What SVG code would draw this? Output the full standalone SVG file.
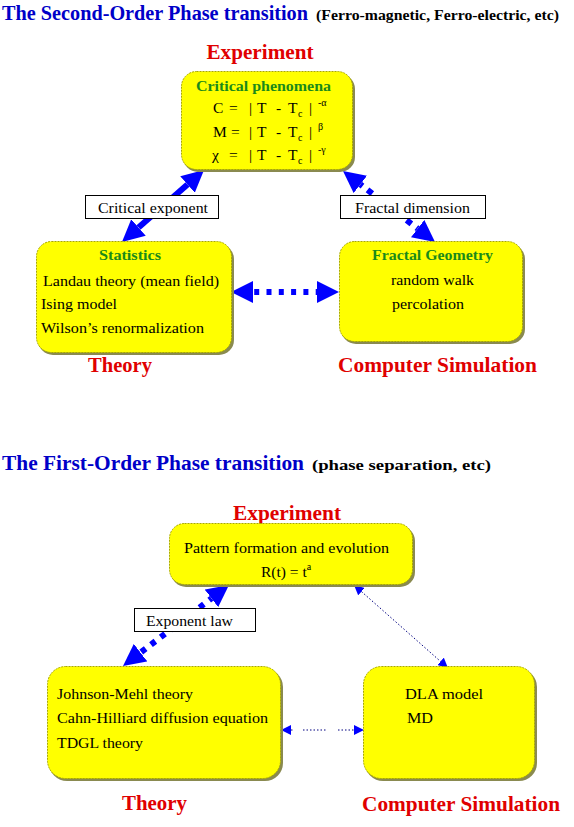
<svg xmlns="http://www.w3.org/2000/svg" width="574" height="827" viewBox="0 0 574 827">
<style>
text{font-family:"Liberation Serif","Times New Roman",serif;}
.title{font-size:20px;font-weight:bold;fill:#0000C8;}
.sub{font-size:14px;font-weight:bold;fill:#000;}
.cat{font-size:22px;font-weight:bold;fill:#E00000;}
.head{font-size:15px;font-weight:bold;fill:#1A8A1A;}
.body{font-size:15.5px;fill:#000;}
.lab{font-size:15px;fill:#000;}
.sm{font-size:10px;}
.box{fill:#FFFF00;stroke:#A8A800;stroke-width:1;stroke-dasharray:2 1;}
.shadow{fill:#8A8A50;}
.lbox{fill:#FFFFFF;stroke:#000;stroke-width:1;}
.thick{stroke:#0000FF;stroke-width:6;fill:none;}
.thin{stroke:#000080;stroke-width:1;fill:none;stroke-dasharray:1.5 2;}
</style>
<defs>
<marker id="big" markerUnits="userSpaceOnUse" viewBox="0 0 22 22" markerWidth="22" markerHeight="22" refX="0" refY="11" orient="auto-start-reverse"><path d="M0,0 L22,11 L0,22 Z" fill="#0000FF"/></marker>
<marker id="small" markerUnits="userSpaceOnUse" viewBox="0 0 10 10" markerWidth="10" markerHeight="10" refX="0" refY="5" orient="auto-start-reverse"><path d="M0,0 L10,5 L0,10 Z" fill="#0000FF"/></marker>
</defs>

<rect width="574" height="827" fill="#FFFFFF"/>

<g id="titles">
<text class="title" x="2" y="20" textLength="306" lengthAdjust="spacingAndGlyphs">The Second-Order Phase transition</text>
<text class="sub" x="316" y="20" textLength="243" lengthAdjust="spacingAndGlyphs">(Ferro-magnetic, Ferro-electric, etc)</text>
<text class="title" x="2" y="470" textLength="302" lengthAdjust="spacingAndGlyphs">The First-Order Phase transition</text>
<text class="sub" x="312" y="470" font-size="15" textLength="179" lengthAdjust="spacingAndGlyphs">(phase separation, etc)</text>
</g>

<g id="labels">
<text class="cat" x="260" y="59" text-anchor="middle" textLength="107" lengthAdjust="spacingAndGlyphs">Experiment</text>
<text class="cat" x="120" y="372" text-anchor="middle" textLength="64" lengthAdjust="spacingAndGlyphs">Theory</text>
<text class="cat" x="338" y="372" textLength="199" lengthAdjust="spacingAndGlyphs">Computer Simulation</text>
<text class="cat" x="287" y="520" text-anchor="middle" textLength="108" lengthAdjust="spacingAndGlyphs">Experiment</text>
<text class="cat" x="154.5" y="810" text-anchor="middle" textLength="65" lengthAdjust="spacingAndGlyphs">Theory</text>
<text class="cat" x="362" y="811" textLength="198" lengthAdjust="spacingAndGlyphs">Computer Simulation</text>
</g>

<g id="connectors">
<line class="thick" x1="138.5" y1="227.5" x2="187.5" y2="184.5" marker-start="url(#big)" marker-end="url(#big)"/>
<line class="thick" x1="360.4" y1="184.4" x2="417.6" y2="228.6" stroke-dasharray="6 6.35" stroke-dashoffset="-9" marker-start="url(#big)" marker-end="url(#big)"/>
<line class="thick" x1="253" y1="292" x2="317" y2="292" stroke-dasharray="5 7.3" stroke-dashoffset="-13.5" marker-start="url(#big)" marker-end="url(#big)"/>
<line class="thick" stroke-width="5" x1="140.5" y1="652.6" x2="211.5" y2="598.4" stroke-dasharray="5.5 6.7" stroke-dashoffset="-1" marker-start="url(#big)" marker-end="url(#big)"/>
<line class="thin" x1="361.5" y1="591.6" x2="440.5" y2="661.4" marker-start="url(#small)" marker-end="url(#small)"/>
<line class="thin" x1="291" y1="730" x2="293" y2="730" marker-start="url(#small)"/>
<line class="thin" x1="303" y1="730" x2="327" y2="730"/>
<line class="thin" x1="338" y1="730" x2="354" y2="730" marker-end="url(#small)"/>
</g>

<g id="critical-exponent">
<rect class="lbox" x="85.5" y="195.5" width="133" height="23"/>
<text class="lab" x="98" y="213" textLength="110" lengthAdjust="spacingAndGlyphs">Critical exponent</text>
</g>
<g id="fractal-dimension">
<rect class="lbox" x="340.5" y="195.5" width="145" height="23"/>
<text class="lab" x="355" y="213" textLength="115" lengthAdjust="spacingAndGlyphs">Fractal dimension</text>
</g>
<g id="exponent-law">
<rect class="lbox" x="134.5" y="608.5" width="121" height="23"/>
<text class="lab" x="146" y="626" textLength="87" lengthAdjust="spacingAndGlyphs">Exponent law</text>
</g>

<g id="critical-phenomena">
<rect class="shadow" x="183" y="74" width="172" height="98" rx="15"/>
<rect class="box" x="181.5" y="71.5" width="171" height="98" rx="15"/>
<text class="head" x="263.5" y="91" text-anchor="middle" textLength="135" lengthAdjust="spacingAndGlyphs">Critical phenomena</text>
<text class="body" y="113"><tspan x="213">C</tspan><tspan x="229">=</tspan><tspan x="249">|</tspan><tspan x="257">T</tspan><tspan x="276">-</tspan><tspan x="288">T</tspan><tspan x="298" dy="4" class="sm">c</tspan><tspan x="309" dy="-4">|</tspan><tspan x="318" dy="-7" class="sm">-α</tspan></text>
<text class="body" y="137"><tspan x="213">M</tspan><tspan x="231">=</tspan><tspan x="249">|</tspan><tspan x="257">T</tspan><tspan x="276">-</tspan><tspan x="288">T</tspan><tspan x="298" dy="4" class="sm">c</tspan><tspan x="309" dy="-4">|</tspan><tspan x="318" dy="-7" class="sm">β</tspan></text>
<text class="body" y="160"><tspan x="212">χ</tspan><tspan x="229">=</tspan><tspan x="249">|</tspan><tspan x="257">T</tspan><tspan x="276">-</tspan><tspan x="288">T</tspan><tspan x="298" dy="4" class="sm">c</tspan><tspan x="309" dy="-4">|</tspan><tspan x="318" dy="-7" class="sm">-γ</tspan></text>
</g>

<g id="statistics">
<rect class="shadow" x="38" y="244" width="196" height="111" rx="15"/>
<rect class="box" x="36.5" y="241.5" width="195" height="111" rx="15"/>
<text class="head" x="130" y="260" text-anchor="middle" textLength="62" lengthAdjust="spacingAndGlyphs">Statistics</text>
<text class="body" x="43" y="286" textLength="176" lengthAdjust="spacingAndGlyphs">Landau theory (mean field)</text>
<text class="body" x="41" y="309" textLength="76" lengthAdjust="spacingAndGlyphs">Ising model</text>
<text class="body" x="41" y="333" textLength="163" lengthAdjust="spacingAndGlyphs">Wilson’s renormalization</text>
</g>

<g id="fractal-geometry">
<rect class="shadow" x="341" y="244" width="184" height="100" rx="15"/>
<rect class="box" x="339.5" y="241.5" width="183" height="100" rx="15"/>
<text class="head" x="432.5" y="260" text-anchor="middle" textLength="121" lengthAdjust="spacingAndGlyphs">Fractal Geometry</text>
<text class="body" x="391" y="285" textLength="83" lengthAdjust="spacingAndGlyphs">random walk</text>
<text class="body" x="392" y="309" textLength="72" lengthAdjust="spacingAndGlyphs">percolation</text>
</g>

<g id="pattern-formation">
<rect class="shadow" x="171" y="526" width="244" height="61" rx="15"/>
<rect class="box" x="169.5" y="523.5" width="243" height="61" rx="15"/>
<text class="body" x="184" y="553" textLength="205" lengthAdjust="spacingAndGlyphs">Pattern formation and evolution</text>
<text class="body" x="261" y="577">R(t) = t<tspan class="sm" dy="-7">a</tspan></text>
</g>

<g id="theory">
<rect class="shadow" x="49" y="669" width="234" height="112" rx="18"/>
<rect class="box" x="47.5" y="666.5" width="233" height="112" rx="18"/>
<text class="body" x="57" y="699" textLength="136" lengthAdjust="spacingAndGlyphs">Johnson-Mehl theory</text>
<text class="body" x="57" y="723" textLength="211" lengthAdjust="spacingAndGlyphs">Cahn-Hilliard diffusion equation</text>
<text class="body" x="57" y="748" textLength="86" lengthAdjust="spacingAndGlyphs">TDGL theory</text>
</g>

<g id="computer-simulation">
<rect class="shadow" x="365" y="669" width="172" height="112" rx="18"/>
<rect class="box" x="363.5" y="666.5" width="171" height="112" rx="18"/>
<text class="body" x="405" y="699" textLength="78" lengthAdjust="spacingAndGlyphs">DLA model</text>
<text class="body" x="407" y="723" textLength="26" lengthAdjust="spacingAndGlyphs">MD</text>
</g>
</svg>
